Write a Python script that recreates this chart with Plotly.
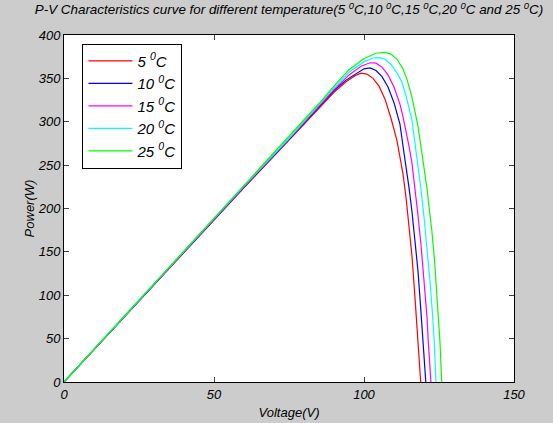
import plotly.graph_objects as go

# ---- data (Voltage V, Power W) ----
v_5 = [0, 20, 40, 60, 75, 85, 90, 94, 97, 99, 101, 103, 105, 107, 109, 111, 112, 113, 114, 115, 116, 117, 117.8, 118.5, 118.9]
p_5 = [0, 75, 150, 224, 279, 316, 334, 346, 353, 356, 355, 350, 341, 326, 304, 278, 260, 240, 213, 180, 145, 97, 50, 18, 0]

v_10 = [0, 20, 40, 60, 75, 85, 90, 94, 97, 100, 102, 104, 106, 108, 110, 112, 113, 114, 115, 116, 117, 118, 119, 119.6, 120.2, 120.6]
p_10 = [0, 75.1, 150.2, 224.5, 279.5, 317, 336, 348, 355, 361, 362, 359, 352, 340, 322, 297, 272, 250, 224, 196, 165, 128, 80, 48, 18, 0]

v_15 = [0, 20, 40, 60, 75, 85, 90, 95, 99, 102, 104, 106, 108, 110, 112, 113, 114, 115, 116, 117, 118, 119, 120, 121, 121.4, 121.9, 122.3]
p_15 = [0, 75.2, 150.5, 225, 280, 318, 337, 354, 364, 368, 367.5, 363, 354, 340, 320, 306, 290, 272, 252, 225, 192, 158, 118, 75, 48, 20, 0]

v_20 = [0, 20, 40, 60, 75, 85, 90, 95, 100, 103, 105, 107, 109, 111, 112.6, 114, 116, 117.3, 118, 119, 120, 121, 122, 122.8, 123.4, 124]
p_20 = [0, 75.3, 150.7, 226, 281, 320, 339, 357, 369, 373.5, 374, 372, 366, 356, 346, 330, 302, 267, 250, 222, 190, 156, 116, 80, 48, 0]

v_25 = [0, 20, 40, 60, 75, 85, 90, 95, 100, 104, 107, 109, 111, 113, 114.4, 116, 118, 119.2, 120, 121, 122, 122.6, 123.5, 124.5, 125.3, 125.9]
p_25 = [0, 75.5, 151, 226.5, 282, 321, 341, 360, 373, 379, 380, 378, 372, 361, 348, 328, 295, 267, 248, 223, 192, 175, 140, 95, 48, 0]

series_names = ["5 <sup>0</sup>C", "10 <sup>0</sup>C", "15 <sup>0</sup>C", "20 <sup>0</sup>C", "25 <sup>0</sup>C"]
series_v = [v_5, v_10, v_15, v_20, v_25]
series_p = [p_5, p_10, p_15, p_20, p_25]
series_colors = ["#ff0000", "#0000ff", "#ff00ff", "#00ffff", "#00ff00"]

x_ticks = [0, 50, 100, 150]
y_ticks = [0, 50, 100, 150, 200, 250, 300, 350, 400]

title_text = ("P-V Characteristics curve for different temperature(5 <sup>0</sup>C,10 <sup>0</sup>C,"
              "15 <sup>0</sup>C,20 <sup>0</sup>C and 25 <sup>0</sup>C)")

fig = go.Figure()
for name, vv, pp, col in zip(series_names, series_v, series_p, series_colors):
    fig.add_trace(go.Scatter(x=vv, y=pp, mode="lines", name=name,
                             line=dict(color=col, width=1.2)))

font_family = "Liberation Sans, Arial, sans-serif"

fig.update_layout(
    width=553, height=423,
    margin=dict(l=64, r=39, t=35, b=41, autoexpand=False),
    paper_bgcolor="#cccccc",
    plot_bgcolor="#ffffff",
    font=dict(family=font_family, size=13, color="#000000", style="italic"),
    title=dict(text=title_text, x=0.5, xref="paper", xanchor="center",
               y=0.988, yref="container", yanchor="top", automargin=False,
               font=dict(family=font_family, size=13.4, color="#000000", style="italic")),
    showlegend=True,
    legend=dict(x=0.041, y=0.975, xanchor="left", yanchor="top",
                bgcolor="#ffffff", bordercolor="#000000", borderwidth=1,
                font=dict(family=font_family, size=15, color="#000000", style="italic"),
                tracegroupgap=0, itemwidth=44),
    xaxis=dict(range=[0, 150], tickvals=x_ticks, ticks="inside", ticklen=5,
               showline=True, linecolor="#000000", linewidth=1, mirror="ticks",
               showgrid=False, zeroline=False, automargin=False,
               title=dict(text="Voltage(V)", standoff=7,
                          font=dict(family=font_family, size=13, style="italic"))),
    yaxis=dict(range=[0, 400], tickvals=y_ticks, ticks="inside", ticklen=5,
               showline=True, linecolor="#000000", linewidth=1, mirror="ticks",
               showgrid=False, zeroline=False, automargin=False,
               title=dict(text="Power(W)", standoff=0,
                          font=dict(family=font_family, size=13, style="italic"))),
)

fig.write_html(
    "out.html",
    config={"displayModeBar": False},
    post_script="document.body.style.margin='0';document.body.style.background='#cccccc';"
                "document.documentElement.style.overflow='hidden';",
)
